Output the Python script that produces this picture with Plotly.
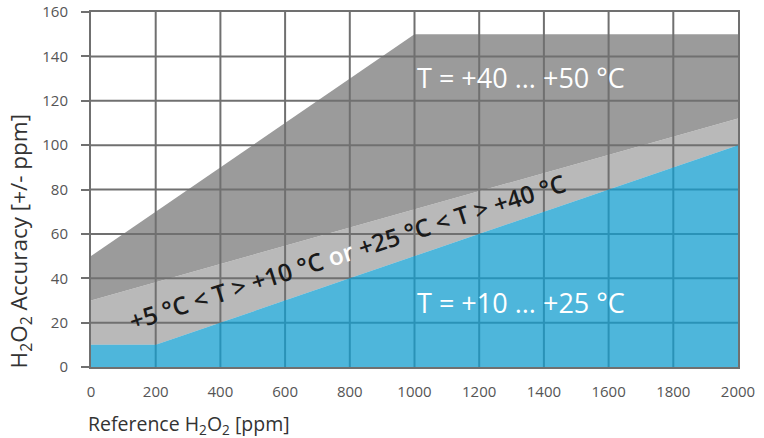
import plotly.graph_objects as go

# Data
x_pts = [0, 200, 1000, 2000]            # Reference H2O2 [ppm]
blue_top = [10, 10, 50, 100]             # T = +10 ... +25 °C
light_top = [30, 38.2, 71, 112]          # +5..+10 °C or +25..+40 °C
dark_top = [50, 70, 150, 150]            # T = +40 ... +50 °C

x_ticks = [0, 200, 400, 600, 800, 1000, 1200, 1400, 1600, 1800, 2000]
y_ticks = [0, 20, 40, 60, 80, 100, 120, 140, 160]

label_hot = "T = +40 ... +50 °C"
label_mid = ("+5 °C &lt; T &gt; +10 °C <span style='color:white'>or</span> "
             "+25 °C &lt; T &gt; +40 °C")
label_cool = "T = +10 ... +25 °C"

GRID = "#707070"
FONT = "Open Sans"

fig = go.Figure()

# invisible baseline for the light band
fig.add_trace(go.Scatter(x=x_pts, y=blue_top, mode="lines",
                         line=dict(width=0), showlegend=False, hoverinfo="skip"))
fig.add_trace(go.Scatter(x=x_pts, y=light_top, mode="lines", fill="tonexty",
                         fillcolor="#b9b9b9", line=dict(width=0),
                         showlegend=False))
fig.add_trace(go.Scatter(x=x_pts, y=dark_top, mode="lines", fill="tonexty",
                         fillcolor="#9b9b9b", line=dict(width=0),
                         showlegend=False))

# grid lines drawn above the grey bands
gx, gy = [], []
for xt in x_ticks[1:-1]:
    gx += [xt, xt, None]
    gy += [y_ticks[0], y_ticks[-1], None]
for yt in y_ticks[1:-1]:
    gx += [x_ticks[0], x_ticks[-1], None]
    gy += [yt, yt, None]
fig.add_trace(go.Scatter(x=gx, y=gy, mode="lines",
                         line=dict(color=GRID, width=2),
                         showlegend=False, hoverinfo="skip"))

# blue area, slightly translucent so the grid shows through tinted
fig.add_trace(go.Scatter(x=x_pts, y=blue_top, mode="lines", fill="tozeroy",
                         fillcolor="rgba(19,158,207,0.75)", line=dict(width=0),
                         showlegend=False))

fig.add_annotation(x=1000, y=130.5, xref="x", yref="y", text=label_hot,
                   showarrow=False, xanchor="left", yanchor="middle",
                   font=dict(family=FONT, size=27, color="white", weight=500))
fig.add_annotation(x=1000, y=29, xref="x", yref="y", text=label_cool,
                   showarrow=False, xanchor="left", yanchor="middle",
                   font=dict(family=FONT, size=27, color="white", weight=500))
fig.add_annotation(x=794, y=52, xref="x", yref="y", text=label_mid,
                   showarrow=False, textangle=-17.8,
                   font=dict(family=FONT, size=24.5, color="#1a1a1a", weight=600))

# axis titles
fig.add_annotation(x=-0.008, y=-0.163, xref="paper", yref="paper",
                   text="Reference H<sub>2</sub>O<sub>2</sub> [ppm]",
                   showarrow=False, xanchor="left", yanchor="middle",
                   font=dict(family=FONT, size=19.5, color="#333333"))
fig.add_annotation(x=-0.110, y=-0.01, xref="paper", yref="paper",
                   text="H<sub>2</sub>O<sub>2</sub> Accuracy [+/- ppm]",
                   showarrow=False, textangle=-90, xanchor="center",
                   yanchor="bottom",
                   font=dict(family=FONT, size=22.5, color="#333333"))

fig.update_xaxes(range=[0, 2000], tickvals=x_ticks, showgrid=False,
                 zeroline=False, showline=True, mirror=True, linecolor=GRID,
                 linewidth=2, ticks="", ticklabelstandoff=10, automargin=False,
                 tickfont=dict(family=FONT, size=15, color="#555555"))
fig.update_yaxes(range=[0, 160], tickvals=y_ticks, showgrid=False,
                 zeroline=False, showline=True, mirror=True, linecolor=GRID,
                 linewidth=2, ticks="outside", ticklen=8, tickwidth=2,
                 tickcolor=GRID, ticklabelstandoff=10, automargin=False,
                 tickfont=dict(family=FONT, size=15, color="#555555"))

fig.update_layout(width=764, height=438,
                  margin=dict(l=91, r=26, t=12, b=71),
                  plot_bgcolor="white", paper_bgcolor="white",
                  showlegend=False)

# remove the default page margin so the figure sits at the window's corner
fig.write_html("out.html", config={"displayModeBar": False},
               post_script="document.body.style.margin='0';")
